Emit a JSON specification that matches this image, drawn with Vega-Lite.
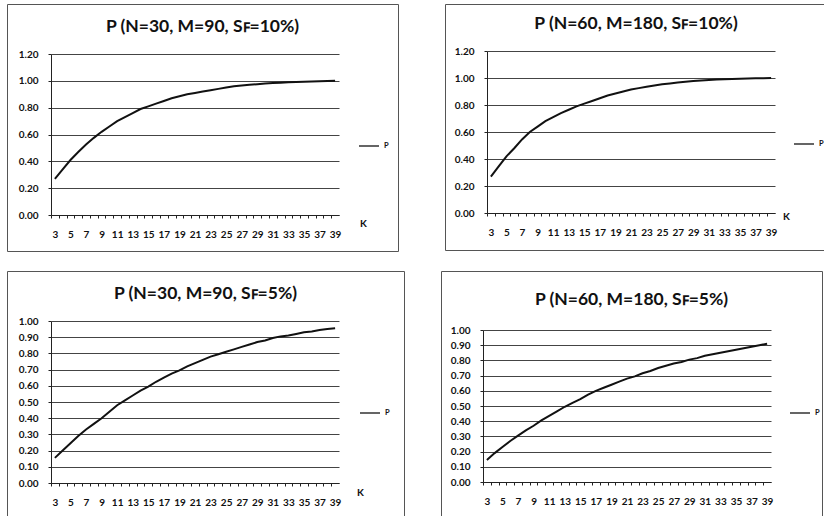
{
"$schema": "https://vega.github.io/schema/vega-lite/v6.json",
"padding": {"left": 6, "top": 3, "right": 0, "bottom": 0},
"data": {"values": [
{"g":"a","K":3,"P":0.27},{"g":"a","K":4,"P":0.34},{"g":"a","K":5,"P":0.41},{"g":"a","K":6,"P":0.47},{"g":"a","K":7,"P":0.525},{"g":"a","K":8,"P":0.575},{"g":"a","K":9,"P":0.62},{"g":"a","K":10,"P":0.66},{"g":"a","K":11,"P":0.70},{"g":"a","K":12,"P":0.73},{"g":"a","K":13,"P":0.76},{"g":"a","K":14,"P":0.79},{"g":"a","K":15,"P":0.81},{"g":"a","K":16,"P":0.83},{"g":"a","K":17,"P":0.85},{"g":"a","K":18,"P":0.87},{"g":"a","K":19,"P":0.885},{"g":"a","K":20,"P":0.90},{"g":"a","K":21,"P":0.91},{"g":"a","K":22,"P":0.92},{"g":"a","K":23,"P":0.93},{"g":"a","K":24,"P":0.94},{"g":"a","K":25,"P":0.95},{"g":"a","K":26,"P":0.96},{"g":"a","K":27,"P":0.965},{"g":"a","K":28,"P":0.97},{"g":"a","K":29,"P":0.975},{"g":"a","K":30,"P":0.98},{"g":"a","K":31,"P":0.983},{"g":"a","K":32,"P":0.986},{"g":"a","K":33,"P":0.989},{"g":"a","K":34,"P":0.991},{"g":"a","K":35,"P":0.993},{"g":"a","K":36,"P":0.995},{"g":"a","K":37,"P":0.996},{"g":"a","K":38,"P":0.998},{"g":"a","K":39,"P":1.0},
{"g":"b","K":3,"P":0.27},{"g":"b","K":4,"P":0.345},{"g":"b","K":5,"P":0.42},{"g":"b","K":6,"P":0.48},{"g":"b","K":7,"P":0.545},{"g":"b","K":8,"P":0.60},{"g":"b","K":9,"P":0.64},{"g":"b","K":10,"P":0.68},{"g":"b","K":11,"P":0.71},{"g":"b","K":12,"P":0.74},{"g":"b","K":13,"P":0.765},{"g":"b","K":14,"P":0.79},{"g":"b","K":15,"P":0.81},{"g":"b","K":16,"P":0.83},{"g":"b","K":17,"P":0.85},{"g":"b","K":18,"P":0.87},{"g":"b","K":19,"P":0.885},{"g":"b","K":20,"P":0.90},{"g":"b","K":21,"P":0.915},{"g":"b","K":22,"P":0.925},{"g":"b","K":23,"P":0.935},{"g":"b","K":24,"P":0.945},{"g":"b","K":25,"P":0.953},{"g":"b","K":26,"P":0.96},{"g":"b","K":27,"P":0.967},{"g":"b","K":28,"P":0.973},{"g":"b","K":29,"P":0.978},{"g":"b","K":30,"P":0.982},{"g":"b","K":31,"P":0.986},{"g":"b","K":32,"P":0.989},{"g":"b","K":33,"P":0.991},{"g":"b","K":34,"P":0.993},{"g":"b","K":35,"P":0.995},{"g":"b","K":36,"P":0.997},{"g":"b","K":37,"P":0.998},{"g":"b","K":38,"P":0.999},{"g":"b","K":39,"P":1.0},
{"g":"c","K":3,"P":0.155},{"g":"c","K":4,"P":0.20},{"g":"c","K":5,"P":0.245},{"g":"c","K":6,"P":0.29},{"g":"c","K":7,"P":0.33},{"g":"c","K":8,"P":0.365},{"g":"c","K":9,"P":0.40},{"g":"c","K":10,"P":0.44},{"g":"c","K":11,"P":0.48},{"g":"c","K":12,"P":0.51},{"g":"c","K":13,"P":0.54},{"g":"c","K":14,"P":0.57},{"g":"c","K":15,"P":0.595},{"g":"c","K":16,"P":0.625},{"g":"c","K":17,"P":0.65},{"g":"c","K":18,"P":0.675},{"g":"c","K":19,"P":0.695},{"g":"c","K":20,"P":0.72},{"g":"c","K":21,"P":0.74},{"g":"c","K":22,"P":0.76},{"g":"c","K":23,"P":0.78},{"g":"c","K":24,"P":0.795},{"g":"c","K":25,"P":0.81},{"g":"c","K":26,"P":0.825},{"g":"c","K":27,"P":0.84},{"g":"c","K":28,"P":0.855},{"g":"c","K":29,"P":0.87},{"g":"c","K":30,"P":0.88},{"g":"c","K":31,"P":0.895},{"g":"c","K":32,"P":0.905},{"g":"c","K":33,"P":0.91},{"g":"c","K":34,"P":0.92},{"g":"c","K":35,"P":0.93},{"g":"c","K":36,"P":0.935},{"g":"c","K":37,"P":0.945},{"g":"c","K":38,"P":0.95},{"g":"c","K":39,"P":0.955},
{"g":"d","K":3,"P":0.145},{"g":"d","K":4,"P":0.19},{"g":"d","K":5,"P":0.23},{"g":"d","K":6,"P":0.27},{"g":"d","K":7,"P":0.305},{"g":"d","K":8,"P":0.34},{"g":"d","K":9,"P":0.37},{"g":"d","K":10,"P":0.405},{"g":"d","K":11,"P":0.435},{"g":"d","K":12,"P":0.465},{"g":"d","K":13,"P":0.495},{"g":"d","K":14,"P":0.52},{"g":"d","K":15,"P":0.545},{"g":"d","K":16,"P":0.575},{"g":"d","K":17,"P":0.60},{"g":"d","K":18,"P":0.62},{"g":"d","K":19,"P":0.64},{"g":"d","K":20,"P":0.66},{"g":"d","K":21,"P":0.68},{"g":"d","K":22,"P":0.695},{"g":"d","K":23,"P":0.715},{"g":"d","K":24,"P":0.73},{"g":"d","K":25,"P":0.75},{"g":"d","K":26,"P":0.765},{"g":"d","K":27,"P":0.78},{"g":"d","K":28,"P":0.79},{"g":"d","K":29,"P":0.805},{"g":"d","K":30,"P":0.815},{"g":"d","K":31,"P":0.83},{"g":"d","K":32,"P":0.84},{"g":"d","K":33,"P":0.85},{"g":"d","K":34,"P":0.86},{"g":"d","K":35,"P":0.87},{"g":"d","K":36,"P":0.88},{"g":"d","K":37,"P":0.89},{"g":"d","K":38,"P":0.90},{"g":"d","K":39,"P":0.91}
]},
"spacing": 18,
"resolve": {"scale": {"color": "independent"}, "legend": {"color": "independent"}},
"vconcat": [
{"hconcat": [
{"width": 391, "height": 247,
 "title": {"text": "P (N=30, M=90, Sꜰ=10%)", "offset": -31},
 "transform": [{"filter": "datum.g == 'a'"}],
 "mark": {"type": "line", "strokeWidth": 2},
 "encoding": {
  "x": {"field": "K", "type": "quantitative", "scale": {"domain": [2.5, 39.5], "range": [44, 332], "nice": false, "zero": false},
   "axis": {"offset": -36, "values": [3,4,5,6,7,8,9,10,11,12,13,14,15,16,17,18,19,20,21,22,23,24,25,26,27,28,29,30,31,32,33,34,35,36,37,38,39], "labelExpr": "datum.value % 2 == 1 ? datum.label : ''", "grid": false, "tickOffset": -3.9, "labelOffset": 3.9, "title": "K", "titleX": 356, "titleY": 8}},
  "y": {"field": "P", "type": "quantitative", "scale": {"domain": [0, 1.2], "range": [211, 50], "nice": false},
   "axis": {"offset": -44, "values": [0,0.2,0.4,0.6,0.8,1.0,1.2], "format": ".2f", "grid": true, "title": null}},
  "color": {"datum": "P", "type": "nominal", "scale": {"range": ["#111"]}, "legend": {"orient": "none", "legendX": 351, "legendY": 131}}
 }},
{"width": 382, "height": 246,
 "title": {"text": "P (N=60, M=180, Sꜰ=10%)", "offset": -28},
 "transform": [{"filter": "datum.g == 'b'"}],
 "mark": {"type": "line", "strokeWidth": 2},
 "encoding": {
  "x": {"field": "K", "type": "quantitative", "scale": {"domain": [2.5, 39.5], "range": [42, 330], "nice": false, "zero": false},
   "axis": {"offset": -37, "values": [3,4,5,6,7,8,9,10,11,12,13,14,15,16,17,18,19,20,21,22,23,24,25,26,27,28,29,30,31,32,33,34,35,36,37,38,39], "labelExpr": "datum.value % 2 == 1 ? datum.label : ''", "grid": false, "tickOffset": -3.9, "labelOffset": 3.9, "title": "K", "titleX": 341, "titleY": 3}},
  "y": {"field": "P", "type": "quantitative", "scale": {"domain": [0, 1.2], "range": [209, 47], "nice": false},
   "axis": {"offset": -42, "values": [0,0.2,0.4,0.6,0.8,1.0,1.2], "format": ".2f", "grid": true, "title": null}},
  "color": {"datum": "P", "type": "nominal", "scale": {"range": ["#111"]}, "legend": {"orient": "none", "legendX": 348, "legendY": 129}}
 }}
], "spacing": 45, "resolve": {"scale": {"color": "independent"}, "legend": {"color": "independent"}}},
{"hconcat": [
{"width": 397, "height": 250,
 "title": {"text": "P (N=30, M=90, Sꜰ=5%)", "offset": -31},
 "transform": [{"filter": "datum.g == 'c'"}],
 "mark": {"type": "line", "strokeWidth": 2},
 "encoding": {
  "x": {"field": "K", "type": "quantitative", "scale": {"domain": [2.5, 39.5], "range": [44, 332], "nice": false, "zero": false},
   "axis": {"offset": -38, "values": [3,4,5,6,7,8,9,10,11,12,13,14,15,16,17,18,19,20,21,22,23,24,25,26,27,28,29,30,31,32,33,34,35,36,37,38,39], "labelExpr": "datum.value % 2 == 1 ? datum.label : ''", "grid": false, "tickOffset": -3.9, "labelOffset": 3.9, "title": "K", "titleX": 353, "titleY": 9}},
  "y": {"field": "P", "type": "quantitative", "scale": {"domain": [0, 1.0], "range": [212, 50], "nice": false},
   "axis": {"offset": -44, "values": [0,0.1,0.2,0.3,0.4,0.5,0.6,0.7,0.8,0.9,1.0], "format": ".2f", "grid": true, "title": null}},
  "color": {"datum": "P", "type": "nominal", "scale": {"range": ["#111"]}, "legend": {"orient": "none", "legendX": 352, "legendY": 131}}
 }},
{"width": 381, "height": 250,
 "title": {"text": "P (N=60, M=180, Sꜰ=5%)", "offset": -37},
 "transform": [{"filter": "datum.g == 'd'"}],
 "mark": {"type": "line", "strokeWidth": 2},
 "encoding": {
  "x": {"field": "K", "type": "quantitative", "scale": {"domain": [2.5, 39.5], "range": [42, 330], "nice": false, "zero": false},
   "axis": {"offset": -39, "values": [3,4,5,6,7,8,9,10,11,12,13,14,15,16,17,18,19,20,21,22,23,24,25,26,27,28,29,30,31,32,33,34,35,36,37,38,39], "labelExpr": "datum.value % 2 == 1 ? datum.label : ''", "grid": false, "tickOffset": -3.9, "labelOffset": 3.9, "title": null}},
  "y": {"field": "P", "type": "quantitative", "scale": {"domain": [0, 1.0], "range": [211, 59], "nice": false},
   "axis": {"offset": -42, "values": [0,0.1,0.2,0.3,0.4,0.5,0.6,0.7,0.8,0.9,1.0], "format": ".2f", "grid": true, "title": null}},
  "color": {"datum": "P", "type": "nominal", "scale": {"range": ["#111"]}, "legend": {"orient": "none", "legendX": 348, "legendY": 131}}
 }}
], "spacing": 35, "resolve": {"scale": {"color": "independent"}, "legend": {"color": "independent"}}}
],
"config": {
 "background": "white",
 "font": "Lato",
 "view": {"stroke": "#555", "strokeWidth": 1},
 "title": {"font": "Lato", "fontSize": 17.5, "fontWeight": "bold", "color": "#111", "baseline": "alphabetic"},
 "axis": {"labelFont": "Lato", "labelFontSize": 10, "labelFontWeight": "bold", "labelColor": "#111", "domainColor": "#222", "tickColor": "#222", "tickSize": 3, "ticks": true, "gridColor": "#444", "gridWidth": 1, "labelPadding": 10, "titleFont": "Lato", "titleFontSize": 10, "titleFontWeight": "bold", "titleColor": "#111", "titleAlign": "center", "titleBaseline": "middle", "titleAngle": 0},
 "axisX": {"labelPadding": 11},
 "legend": {"title": null, "padding": 0, "symbolType": "stroke", "symbolSize": 400, "symbolStrokeWidth": 1.3, "labelFont": "Lato", "labelFontSize": 7.5, "labelFontWeight": "bold", "labelColor": "#111", "labelOffset": 4}
}
}
